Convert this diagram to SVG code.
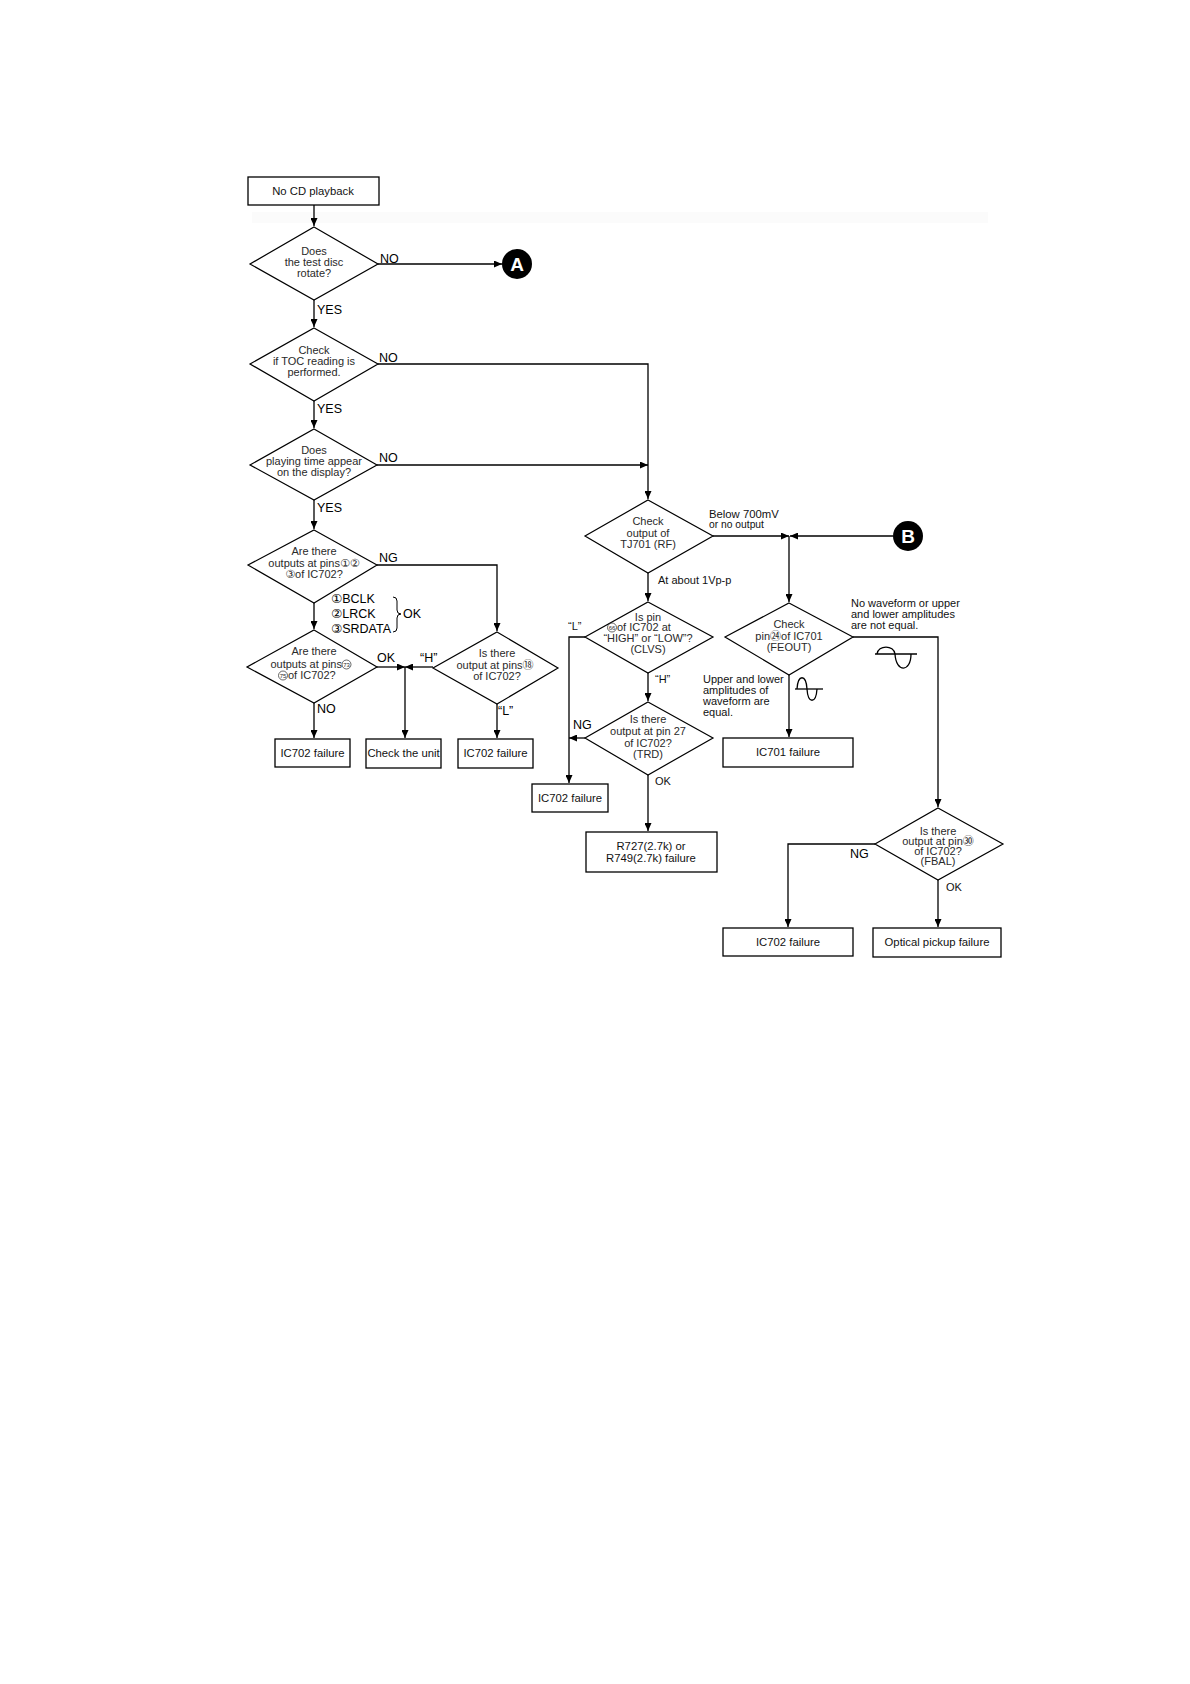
<svg xmlns="http://www.w3.org/2000/svg" width="1190" height="1684" viewBox="0 0 1190 1684">
<defs>
<marker id="ah" markerUnits="userSpaceOnUse" markerWidth="9" markerHeight="7" refX="8" refY="3.5" orient="auto">
<path d="M0,0 L8,3.5 L0,7 z" fill="#000"/>
</marker>
<style>
.box{fill:#fff;stroke:#000;stroke-width:1.3}
.dia{fill:#fff;stroke:#000;stroke-width:1.2}
.ln{fill:none;stroke:#000;stroke-width:1.3}
.ar{fill:none;stroke:#000;stroke-width:1.3;marker-end:url(#ah)}
.t{font-family:"Liberation Sans","DejaVu Sans","Noto Sans CJK SC",sans-serif;font-size:11px;fill:#2a2a2a;text-anchor:middle}
.bt{font-family:"Liberation Sans","DejaVu Sans","Noto Sans CJK SC",sans-serif;font-size:11.3px;fill:#111;text-anchor:middle}
.lb{font-family:"Liberation Sans","DejaVu Sans","Noto Sans CJK SC",sans-serif;font-size:12.5px;fill:#000}
.sm{font-family:"Liberation Sans","DejaVu Sans","Noto Sans CJK SC",sans-serif;font-size:11px;fill:#111}
.cn{font-family:"Liberation Sans",sans-serif;font-size:6px;fill:#2a2a2a;text-anchor:middle}
.cc{fill:none;stroke:#2a2a2a;stroke-width:0.7}
.circ{fill:#000}
.ct{font-family:"Liberation Sans",sans-serif;font-size:19px;font-weight:bold;fill:#fff;text-anchor:middle}
</style>
</defs>
<rect width="1190" height="1684" fill="#fff"/>
<rect x="252" y="212" width="736" height="11" fill="#fbfbfb"/>

<g id="connectors">
<path class="ar" d="M314,205 L314,226"/>
<path class="ar" d="M378,264 L502,264"/>
<path class="ar" d="M314,300 L314,327"/>
<path class="ar" d="M378,364 L648,364 L648,499"/>
<path class="ar" d="M314,401 L314,428"/>
<path class="ar" d="M377,465 L648,465"/>
<path class="ar" d="M314,500 L314,529"/>
<path class="ar" d="M377,565 L497,565 L497,631"/>
<path class="ar" d="M314,603 L314,629"/>
<path class="ar" d="M377,667 L405,667"/>
<path class="ar" d="M433,667 L405,667"/>
<path class="ar" d="M405,667 L405,738"/>
<path class="ar" d="M314,703 L314,738"/>
<path class="ar" d="M497,704 L497,738"/>
<path class="ar" d="M648,573 L648,601"/>
<path class="ar" d="M585,637 L569,637 L569,783"/>
<path class="ar" d="M585,738 L569,738"/>
<path class="ar" d="M648,673 L648,701"/>
<path class="ar" d="M648,775 L648,831"/>
<path class="ar" d="M713,536 L789,536"/>
<path class="ar" d="M893,536 L790,536"/>
<path class="ar" d="M789,536 L789,602"/>
<path class="ar" d="M789,675 L789,737"/>
<path class="ar" d="M853,637 L938,637 L938,807"/>
<path class="ar" d="M875,844 L788,844 L788,927"/>
<path class="ar" d="M938,880 L938,927"/>
</g>

<g id="start">
<rect class="box" x="248" y="177" width="131" height="28"/>
<text class="bt" x="313" y="195">No CD playback</text>
</g>

<g id="d_rotate">
<polygon class="dia" points="314,227 378,264 314,300 250,264"/>
<text class="t" x="314" y="255">Does</text>
<text class="t" x="314" y="266">the test disc</text>
<text class="t" x="314" y="277">rotate?</text>
</g>

<g id="conn_A">
<circle class="circ" cx="517" cy="264" r="15"/>
<text class="ct" x="517" y="271">A</text>
</g>

<g id="d_toc">
<polygon class="dia" points="314,328 378,364 314,401 250,364"/>
<text class="t" x="314" y="354">Check</text>
<text class="t" x="314" y="365">if TOC reading is</text>
<text class="t" x="314" y="376">performed.</text>
</g>

<g id="d_time">
<polygon class="dia" points="314,429 377,465 314,500 250,465"/>
<text class="t" x="314" y="454">Does</text>
<text class="t" x="314" y="465">playing time appear</text>
<text class="t" x="314" y="476">on the display?</text>
</g>

<g id="d_pins123">
<polygon class="dia" points="314,530 377,565 314,603 248,565"/>
<text class="t" x="314" y="555">Are there</text>
<text class="t" x="314" y="567">outputs at pins①②</text>
<text class="t" x="314" y="578">③of IC702?</text>
</g>

<g id="d_pins7375">
<polygon class="dia" points="314,630 377,667 314,703 247,667"/>
<text class="t" x="314" y="655">Are there</text>
<text class="t" x="342" y="668" style="text-anchor:end">outputs at pins</text>
<circle class="cc" cx="346.5" cy="664.5" r="4.5"/>
<text class="cn" x="346.5" y="666.7">73</text>
<circle class="cc" cx="283" cy="675.5" r="4.5"/>
<text class="cn" x="283" y="677.7">75</text>
<text class="t" x="288" y="679" style="text-anchor:start">of IC702?</text>
</g>

<g id="d_pin18">
<polygon class="dia" points="497,632 558,668 497,704 433,668"/>
<text class="t" x="497" y="657">Is there</text>
<text class="t" x="495" y="669">output at pins⑱</text>
<text class="t" x="497" y="680">of IC702?</text>
</g>

<g id="b_ic702_a">
<rect class="box" x="275" y="739" width="75" height="28"/>
<text class="bt" x="312.5" y="757">IC702 failure</text>
</g>
<g id="b_check">
<rect class="box" x="366" y="739" width="75" height="29"/>
<text class="bt" x="403.5" y="757">Check the unit</text>
</g>
<g id="b_ic702_b">
<rect class="box" x="458" y="739" width="75" height="29"/>
<text class="bt" x="495.5" y="757">IC702 failure</text>
</g>

<g id="d_rf">
<polygon class="dia" points="648,500 713,536 648,573 585,536"/>
<text class="t" x="648" y="525">Check</text>
<text class="t" x="648" y="537">output of</text>
<text class="t" x="648" y="548">TJ701 (RF)</text>
</g>

<g id="d_clvs">
<polygon class="dia" points="648,602 713,637 648,673 585,637"/>
<text class="t" x="648" y="621">Is pin</text>
<circle class="cc" cx="612" cy="627.5" r="4.5"/>
<text class="cn" x="612" y="629.7">66</text>
<text class="t" x="617" y="631" style="text-anchor:start">of IC702 at</text>
<text class="t" x="648" y="642">“HIGH” or “LOW”?</text>
<text class="t" x="648" y="653">(CLVS)</text>
</g>

<g id="d_trd">
<polygon class="dia" points="648,702 713,738 648,775 585,738"/>
<text class="t" x="648" y="723">Is there</text>
<text class="t" x="648" y="735">output at pin 27</text>
<text class="t" x="648" y="747">of IC702?</text>
<text class="t" x="648" y="758">(TRD)</text>
</g>

<g id="b_ic702_c">
<rect class="box" x="532" y="784" width="76" height="28"/>
<text class="bt" x="570" y="802">IC702 failure</text>
</g>

<g id="b_r727">
<rect class="box" x="586" y="832" width="131" height="40"/>
<text class="bt" x="651" y="850">R727(2.7k) or</text>
<text class="bt" x="651" y="862">R749(2.7k) failure</text>
</g>

<g id="conn_B">
<circle class="circ" cx="908" cy="536" r="15"/>
<text class="ct" x="908" y="543">B</text>
</g>

<g id="d_feout">
<polygon class="dia" points="789,603 853,637 789,675 725,637"/>
<text class="t" x="789" y="628">Check</text>
<text class="t" x="789" y="640">pin㉔of IC701</text>
<text class="t" x="789" y="651">(FEOUT)</text>
</g>

<g id="b_ic701">
<rect class="box" x="723" y="738" width="130" height="29"/>
<text class="bt" x="788" y="756">IC701 failure</text>
</g>

<g id="d_fbal">
<polygon class="dia" points="938,808 1003,844 938,880 875,844"/>
<text class="t" x="938" y="835">Is there</text>
<text class="t" x="938" y="845">output at pin㉚</text>
<text class="t" x="938" y="855">of IC702?</text>
<text class="t" x="938" y="865">(FBAL)</text>
</g>

<g id="b_ic702_d">
<rect class="box" x="723" y="928" width="130" height="28"/>
<text class="bt" x="788" y="946">IC702 failure</text>
</g>
<g id="b_optical">
<rect class="box" x="873" y="928" width="128" height="29"/>
<text class="bt" x="937" y="946">Optical pickup failure</text>
</g>

<g id="labels">
<text class="lb" x="380" y="263">NO</text>
<text class="lb" x="317" y="314">YES</text>
<text class="lb" x="379" y="362">NO</text>
<text class="lb" x="317" y="413">YES</text>
<text class="lb" x="379" y="462">NO</text>
<text class="lb" x="317" y="512">YES</text>
<text class="lb" x="379" y="562">NG</text>
<text class="lb" x="331" y="603">①BCLK</text>
<text class="lb" x="331" y="618">②LRCK</text>
<text class="lb" x="331" y="633">③SRDATA</text>
<path class="ln" d="M393,597 Q397,597 397,601 L397,610 Q397,614 401,614 Q397,614 397,618 L397,628 Q397,632 393,632" style="stroke-width:1"/>
<text class="lb" x="403" y="618">OK</text>
<text class="lb" x="377" y="662">OK</text>
<text class="lb" x="420" y="662">“H”</text>
<text class="lb" x="317" y="713">NO</text>
<text class="lb" x="498" y="715">“L”</text>
<text class="sm" x="658" y="584">At about 1Vp-p</text>
<text class="sm" x="568" y="630">“L”</text>
<text class="sm" x="655" y="683">“H”</text>
<text class="lb" x="573" y="729">NG</text>
<text class="sm" x="655" y="785">OK</text>
<text class="sm" x="709" y="518" style="font-size:11.3px">Below 700mV</text>
<text class="sm" x="709" y="528" style="font-size:10.3px">or no output</text>
<text class="sm" x="851" y="607">No waveform or upper</text>
<text class="sm" x="851" y="618">and lower amplitudes</text>
<text class="sm" x="851" y="629">are not equal.</text>
<text class="sm" x="703" y="683">Upper and lower</text>
<text class="sm" x="703" y="694">amplitudes of</text>
<text class="sm" x="703" y="705">waveform are</text>
<text class="sm" x="703" y="716">equal.</text>
<text class="lb" x="850" y="858">NG</text>
<text class="sm" x="946" y="891">OK</text>
</g>

<g id="waveforms">
<path class="ln" d="M875,654 L917,654"/>
<path class="ln" d="M877,654 C878,644.7 894,644.7 895,654 C896,672.7 911,672.7 911,654"/>
<path class="ln" d="M795,689 L823,689"/>
<path class="ln" d="M797,689 C798,674 806,674 807,689 C808,704 816,704 817,689"/>
</g>
</svg>
